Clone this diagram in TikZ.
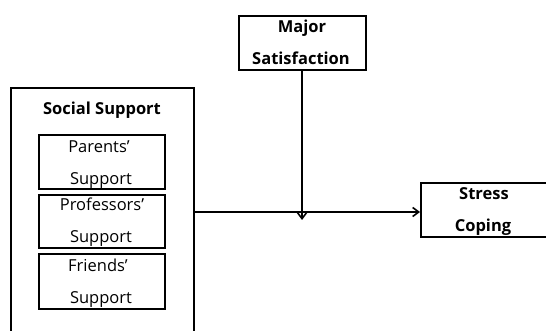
\documentclass[tikz,border=0pt]{standalone}
\usepackage{fontspec}
\setmainfont{Open Sans}
\usetikzlibrary{arrows.meta}
\begin{document}
\begin{tikzpicture}[x=1pt,y=-1pt,
  box/.style={draw,line width=1.6pt,rectangle,inner sep=0pt,anchor=north west},
  txt/.style={inner sep=0pt,anchor=base,font=\fontsize{16.5}{17}\selectfont},
  btxt/.style={inner sep=0pt,anchor=base,font=\fontsize{16.5}{17}\selectfont\bfseries},
  conn/.style={line width=1.6pt,-{Straight Barb[length=6pt,width=9pt,line width=1.6pt]}}]
\useasboundingbox (0,0) rectangle (546,331);
% outer social support box (open at bottom, beyond the frame)
\node[box,minimum width=183pt,minimum height=260pt] (ss) at (10,87) {};
\node[btxt] (sst) at (102,115) {Social Support};
\node[box,minimum width=126pt,minimum height=54pt] (pa) at (38,134) {};
\node[txt] (pa1) at (99,153) {Parents’};
\node[txt] (pa2) at (101,185) {Support};
\node[box,minimum width=126pt,minimum height=53pt] (pr) at (38,194) {};
\node[txt] (pr1) at (102,211) {Professors’};
\node[txt] (pr2) at (101,243) {Support};
\node[box,minimum width=126pt,minimum height=55pt] (fr) at (38,253) {};
\node[txt] (fr1) at (98,271) {Friends’};
\node[txt] (fr2) at (101,303) {Support};
% major satisfaction
\node[box,minimum width=127pt,minimum height=54pt] (ms) at (238,15) {};
\node[btxt] (ms1) at (302,33) {Major};
\node[btxt] (ms2) at (301,65) {Satisfaction};
% stress coping
\node[box,minimum width=135pt,minimum height=54pt] (sc) at (420,182) {};
\node[btxt] (sc1) at (484,200) {Stress};
\node[btxt] (sc2) at (483,232) {Coping};
% connectors
\coordinate (mid) at (302,212);
\draw[conn] (ss.east |- mid) -- (sc.west |- mid);
\draw[conn] (ms.south -| mid) -- ([yshift=-8pt]mid);
\end{tikzpicture}
\end{document}
